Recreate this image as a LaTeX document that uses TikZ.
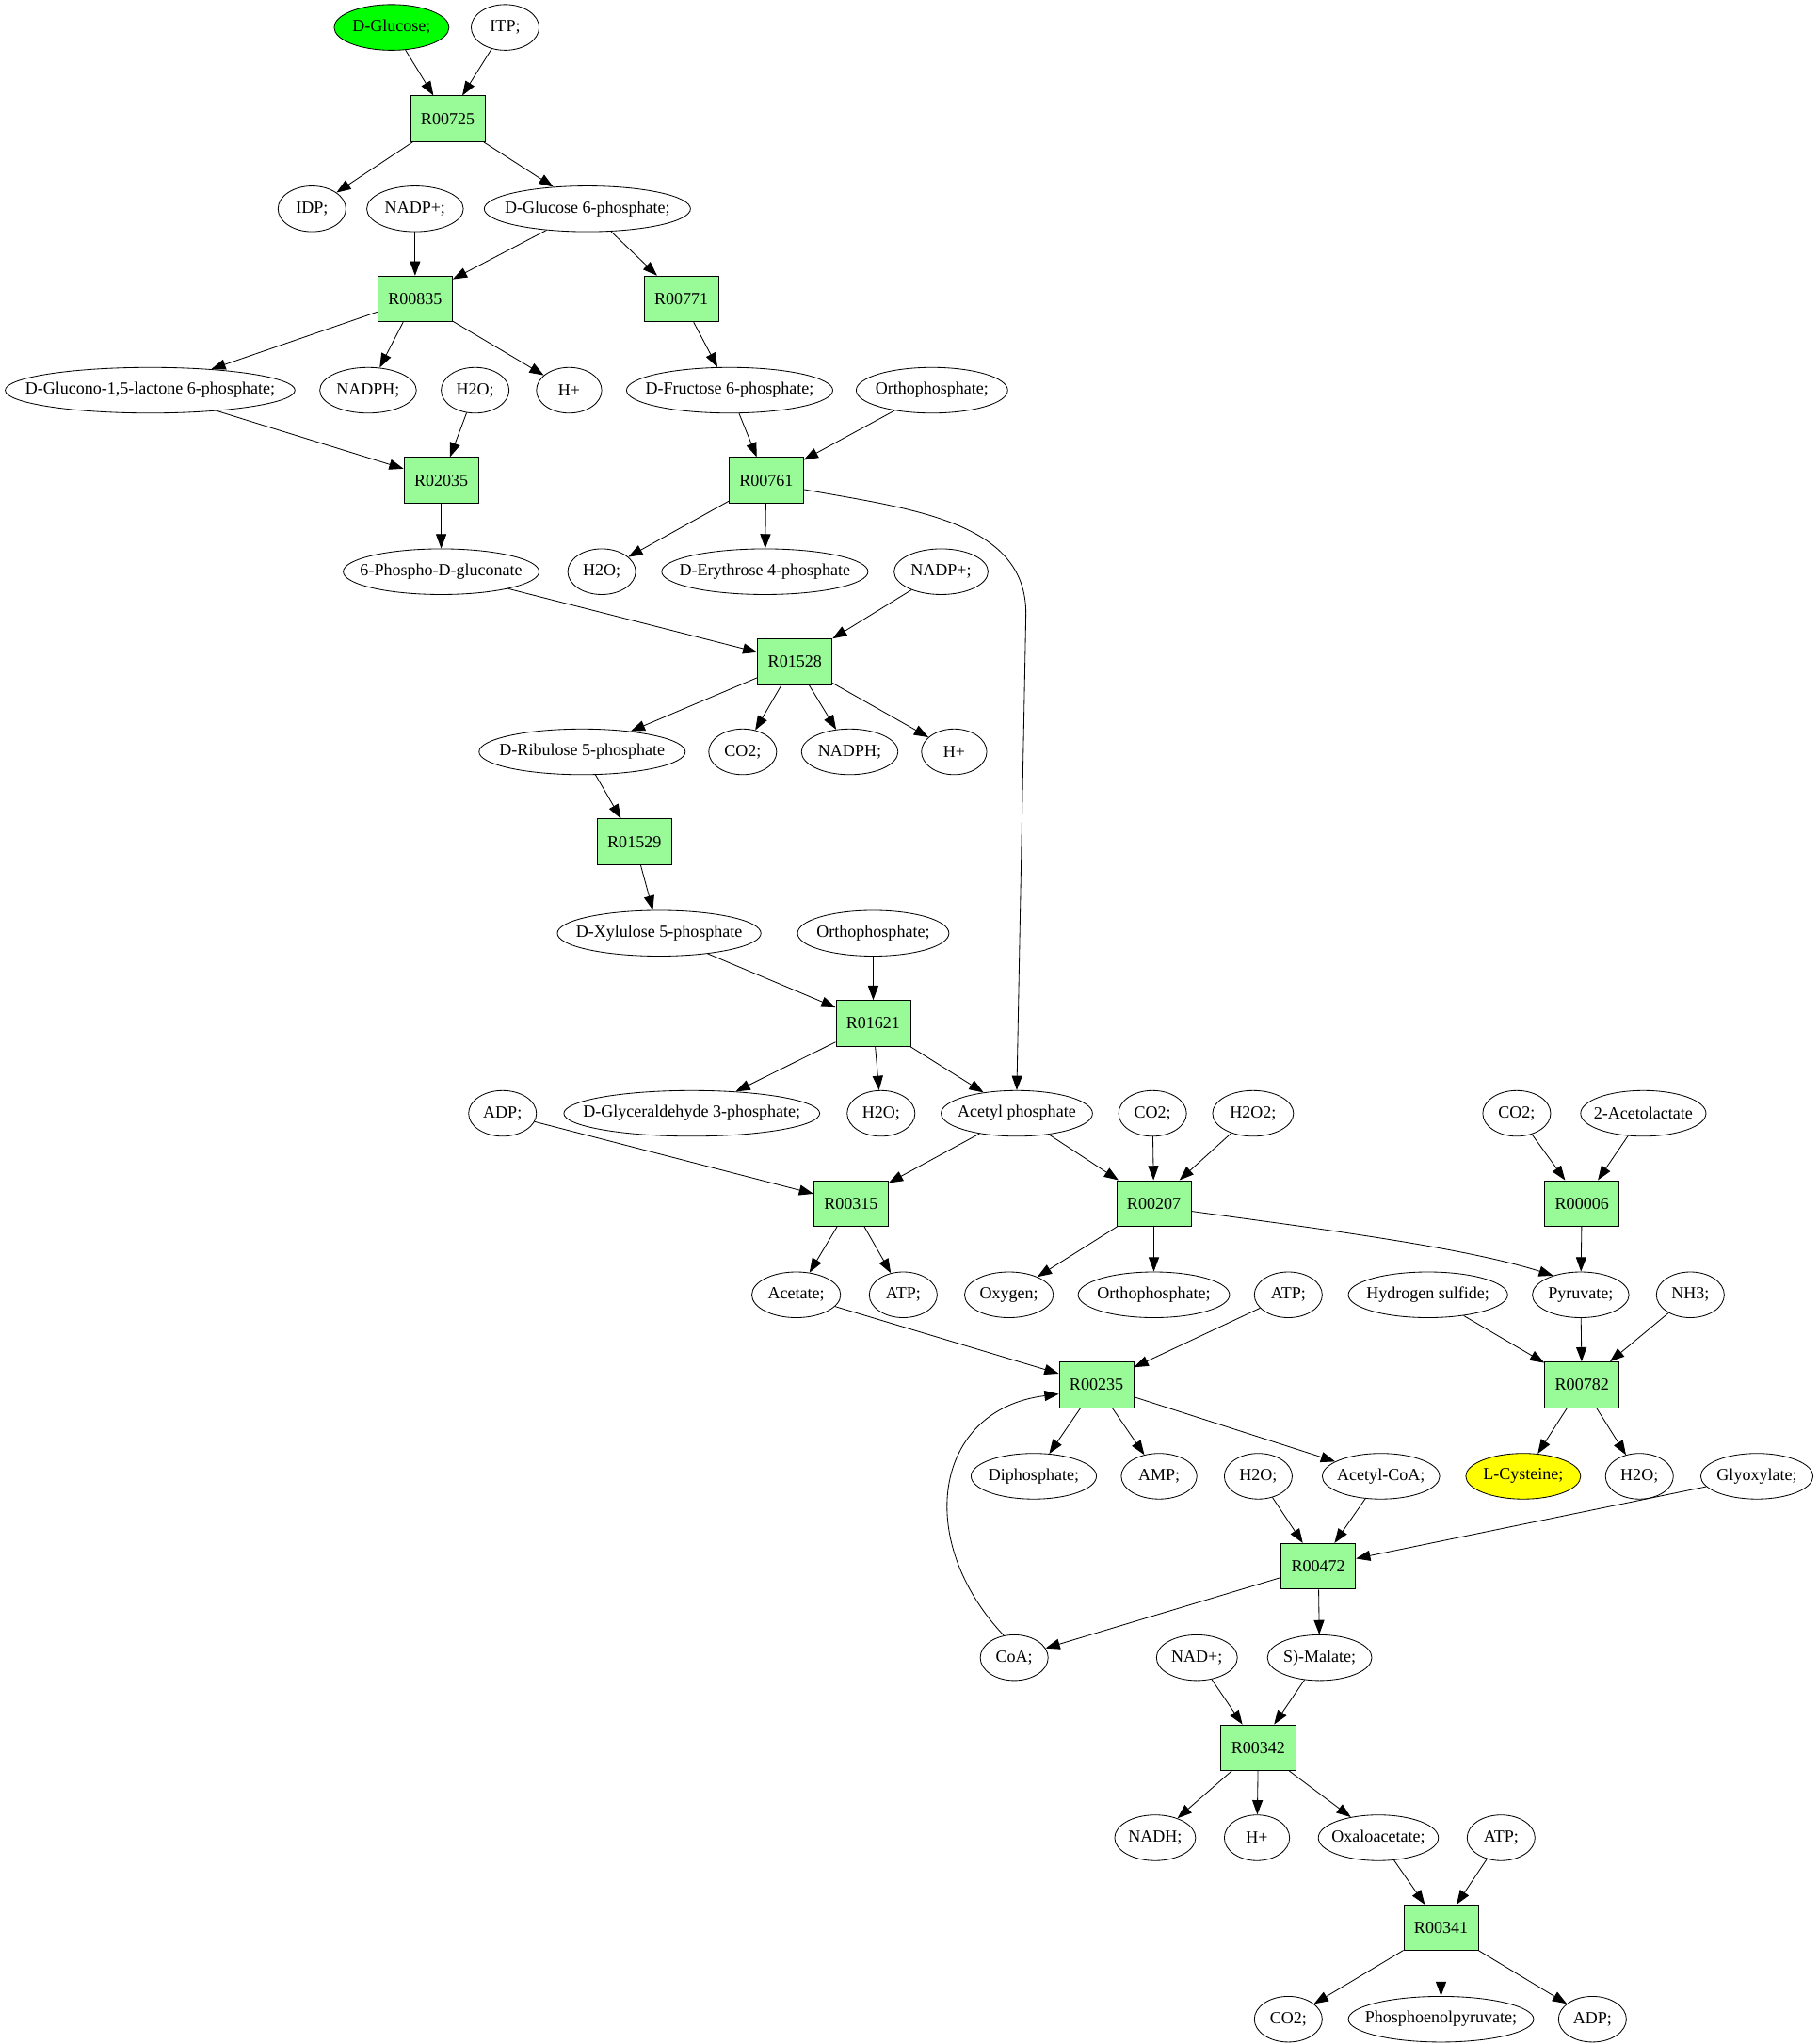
\documentclass[tikz,border=0pt]{standalone}
\usepackage{fontspec}
\setmainfont{Liberation Serif}
\usetikzlibrary{shapes.geometric,arrows.meta}
\newcommand\tx[1]{\makebox[0pt]{#1}}
\definecolor{boxgreen}{HTML}{98FB98}
\definecolor{limegreen}{HTML}{00FF00}
\definecolor{ylw}{HTML}{FFFF00}
\tikzset{
  ell/.style={ellipse, draw, line width=0.6pt, inner sep=0pt, minimum height=35pt, font=\fontsize{13}{15}\selectfont},
  rxn/.style={rectangle, draw, line width=0.65pt, fill=boxgreen, minimum width=57pt, minimum height=35pt, inner sep=0pt, font=\fontsize{13}{15}\selectfont},
  arr/.style={-{Triangle[length=11pt,width=8pt]}, line width=0.6pt},
}
\begin{document}
\begin{tikzpicture}[x=1pt,y=-1pt]
\useasboundingbox (0,0) rectangle (1393,1566);
% row 1
\node[ell, fill=limegreen, minimum width=88pt] (glc) at (300,21) {\tx{D-Glucose;}};
\node[ell, minimum width=52pt] (itp) at (387,21) {\tx{ITP;}};
\node[rxn] (r00725) at (343,91) {R00725};
\node[ell, minimum width=52pt] (idp) at (239,160) {\tx{IDP;}};
\node[ell, minimum width=74pt] (nadpa) at (318,160) {\tx{NADP+;}};
\node[ell, minimum width=158pt] (g6p) at (450,160) {\tx{D-Glucose 6-phosphate;}};
\node[rxn] (r00835) at (318,229) {R00835};
\node[rxn] (r00771) at (522,229) {R00771};
\node[ell, minimum width=222pt] (glac) at (115,299) {\tx{D-Glucono-1,5-lactone 6-phosphate;}};
\node[ell, minimum width=74pt] (nadpha) at (282,299) {\tx{NADPH;}};
\node[ell, minimum width=52pt] (h2oa) at (364,299) {\tx{H2O;}};
\node[ell, minimum width=50pt] (hpa) at (436,299) {\tx{H+}};
\node[ell, minimum width=158pt] (f6p) at (559,299) {\tx{D-Fructose 6-phosphate;}};
\node[ell, minimum width=116pt] (pia) at (714,299) {\tx{Orthophosphate;}};
\node[rxn] (r02035) at (338,368) {R02035};
\node[rxn] (r00761) at (587,368) {R00761};
\node[ell, minimum width=150pt] (pgl) at (338,438) {\tx{6-Phospho-D-gluconate}};
\node[ell, minimum width=52pt] (h2ob) at (461,438) {\tx{H2O;}};
\node[ell, minimum width=158pt] (e4p) at (586,438) {\tx{D-Erythrose 4-phosphate}};
\node[ell, minimum width=72pt] (nadpb) at (721,438) {\tx{NADP+;}};
\node[rxn] (r01528) at (609,507) {R01528};
\node[ell, minimum width=158pt] (ru5p) at (446,576) {\tx{D-Ribulose 5-phosphate}};
\node[ell, minimum width=52pt] (co2a) at (569,576) {\tx{CO2;}};
\node[ell, minimum width=74pt] (nadphb) at (651,576) {\tx{NADPH;}};
\node[ell, minimum width=50pt] (hpb) at (731,576) {\tx{H+}};
\node[rxn] (r01529) at (486,645) {R01529};
\node[ell, minimum width=156pt] (xu5p) at (505,715) {\tx{D-Xylulose 5-phosphate}};
\node[ell, minimum width=116pt] (pib) at (669,715) {\tx{Orthophosphate;}};
\node[rxn] (r01621) at (669,784) {R01621};
\node[ell, minimum width=52pt] (adpa) at (385,853) {\tx{ADP;}};
\node[ell, minimum width=196pt] (gap) at (530,853) {\tx{D-Glyceraldehyde 3-phosphate;}};
\node[ell, minimum width=52pt] (h2oc) at (675,853) {\tx{H2O;}};
\node[ell, minimum width=116pt] (acp) at (779,853) {\tx{Acetyl phosphate}};
\node[ell, minimum width=52pt] (co2b) at (883,853) {\tx{CO2;}};
\node[ell, minimum width=62pt] (hperox) at (960,853) {\tx{H2O2;}};
\node[ell, minimum width=52pt] (co2c) at (1162,853) {\tx{CO2;}};
\node[ell, minimum width=96pt] (acl) at (1259,853) {\tx{2-Acetolactate}};
\node[rxn] (r00315) at (652,922) {R00315};
\node[rxn] (r00207) at (884,922) {R00207};
\node[rxn] (r00006) at (1212,922) {R00006};
\node[ell, minimum width=68pt] (ace) at (610,992) {\tx{Acetate;}};
\node[ell, minimum width=52pt] (atpa) at (692,992) {\tx{ATP;}};
\node[ell, minimum width=68pt] (oxy) at (773,992) {\tx{Oxygen;}};
\node[ell, minimum width=116pt] (pic) at (884,992) {\tx{Orthophosphate;}};
\node[ell, minimum width=52pt] (atpb) at (987,992) {\tx{ATP;}};
\node[ell, minimum width=122pt] (h2s) at (1094,992) {\tx{Hydrogen sulfide;}};
\node[ell, minimum width=74pt] (pyr) at (1211,992) {\tx{Pyruvate;}};
\node[ell, minimum width=52pt] (nh3) at (1295,992) {\tx{NH3;}};
\node[rxn] (r00235) at (840,1061) {R00235};
\node[rxn] (r00782) at (1212,1061) {R00782};
\node[ell, minimum width=96pt] (ppi) at (792,1131) {\tx{Diphosphate;}};
\node[ell, minimum width=58pt] (amp) at (888,1131) {\tx{AMP;}};
\node[ell, minimum width=52pt] (h2od) at (964,1131) {\tx{H2O;}};
\node[ell, minimum width=90pt] (accoa) at (1058,1131) {\tx{Acetyl-CoA;}};
\node[ell, fill=ylw, minimum width=88pt] (cys) at (1167,1131) {\tx{L-Cysteine;}};
\node[ell, minimum width=52pt] (h2oe) at (1256,1131) {\tx{H2O;}};
\node[ell, minimum width=86pt] (glx) at (1346,1131) {\tx{Glyoxylate;}};
\node[rxn] (r00472) at (1010,1200) {R00472};
\node[ell, minimum width=52pt] (coa) at (777,1270) {\tx{CoA;}};
\node[ell, minimum width=62pt] (nad) at (917,1270) {\tx{NAD+;}};
\node[ell, minimum width=80pt] (mal) at (1011,1270) {\tx{S)-Malate;}};
\node[rxn] (r00342) at (964,1339) {R00342};
\node[ell, minimum width=62pt] (nadh) at (885,1408) {\tx{NADH;}};
\node[ell, minimum width=50pt] (hpc) at (963,1408) {\tx{H+}};
\node[ell, minimum width=92pt] (oaa) at (1056,1408) {\tx{Oxaloacetate;}};
\node[ell, minimum width=52pt] (atpc) at (1150,1408) {\tx{ATP;}};
\node[rxn] (r00341) at (1104,1477) {R00341};
\node[ell, minimum width=52pt] (co2d) at (987,1547) {\tx{CO2;}};
\node[ell, minimum width=142pt] (pep) at (1104,1547) {\tx{Phosphoenolpyruvate;}};
\node[ell, minimum width=52pt] (adpb) at (1220,1547) {\tx{ADP;}};
% edges
\draw[arr] (glc) -- (r00725);
\draw[arr] (itp) -- (r00725);
\draw[arr] (r00725) -- (idp);
\draw[arr] (r00725) -- (g6p);
\draw[arr] (nadpa) -- (r00835);
\draw[arr] (g6p) -- (r00835);
\draw[arr] (g6p) -- (r00771);
\draw[arr] (r00835) -- (glac);
\draw[arr] (r00835) -- (nadpha);
\draw[arr] (r00835) -- (hpa);
\draw[arr] (r00771) -- (f6p);
\draw[arr] (glac) -- (r02035);
\draw[arr] (h2oa) -- (r02035);
\draw[arr] (f6p) -- (r00761);
\draw[arr] (pia) -- (r00761);
\draw[arr] (r02035) -- (pgl);
\draw[arr] (r00761) -- (h2ob);
\draw[arr] (r00761) -- (e4p);
\draw[arr] ([yshift=-7pt]r00761.east) .. controls (700,390) and (786,400) .. (786,470) -- (acp.north);
\draw[arr] (pgl) -- (r01528);
\draw[arr] (nadpb) -- (r01528);
\draw[arr] (r01528) -- (ru5p);
\draw[arr] (r01528) -- (co2a);
\draw[arr] (r01528) -- (nadphb);
\draw[arr] (r01528) -- (hpb);
\draw[arr] (ru5p) -- (r01529);
\draw[arr] (r01529) -- (xu5p);
\draw[arr] (xu5p) -- (r01621);
\draw[arr] (pib) -- (r01621);
\draw[arr] (r01621) -- (gap);
\draw[arr] (r01621) -- (h2oc);
\draw[arr] (r01621) -- (acp);
\draw[arr] (adpa) -- (r00315);
\draw[arr] (acp) -- (r00315);
\draw[arr] (acp) -- (r00207);
\draw[arr] (co2b) -- (r00207);
\draw[arr] (hperox) -- (r00207);
\draw[arr] (co2c) -- (r00006);
\draw[arr] (acl) -- (r00006);
\draw[arr] (r00315) -- (ace);
\draw[arr] (r00315) -- (atpa);
\draw[arr] (r00207) -- (oxy);
\draw[arr] (r00207) -- (pic);
\draw[arr] ([yshift=-6pt]r00207.east) .. controls (1000,940) and (1120,955) .. (pyr.145);
\draw[arr] (r00006) -- (pyr);
\draw[arr] (ace) -- (r00235);
\draw[arr] (atpb) -- (r00235);
\draw[arr] (coa.115) .. controls (700,1180) and (715,1080) .. ([yshift=-7pt]r00235.west);
\draw[arr] (h2s) -- (r00782);
\draw[arr] (pyr) -- (r00782);
\draw[arr] (nh3) -- (r00782);
\draw[arr] (r00235) -- (ppi);
\draw[arr] (r00235) -- (amp);
\draw[arr] (r00235) -- (accoa);
\draw[arr] (r00782) -- (cys);
\draw[arr] (r00782) -- (h2oe);
\draw[arr] (h2od) -- (r00472);
\draw[arr] (accoa) -- (r00472);
\draw[arr] (glx) -- (r00472);
\draw[arr] (r00472) -- (coa);
\draw[arr] (r00472) -- (mal);
\draw[arr] (nad) -- (r00342);
\draw[arr] (mal) -- (r00342);
\draw[arr] (r00342) -- (nadh);
\draw[arr] (r00342) -- (hpc);
\draw[arr] (r00342) -- (oaa);
\draw[arr] (oaa) -- (r00341);
\draw[arr] (atpc) -- (r00341);
\draw[arr] (r00341) -- (co2d);
\draw[arr] (r00341) -- (pep);
\draw[arr] (r00341) -- (adpb);
\end{tikzpicture}
\end{document}
